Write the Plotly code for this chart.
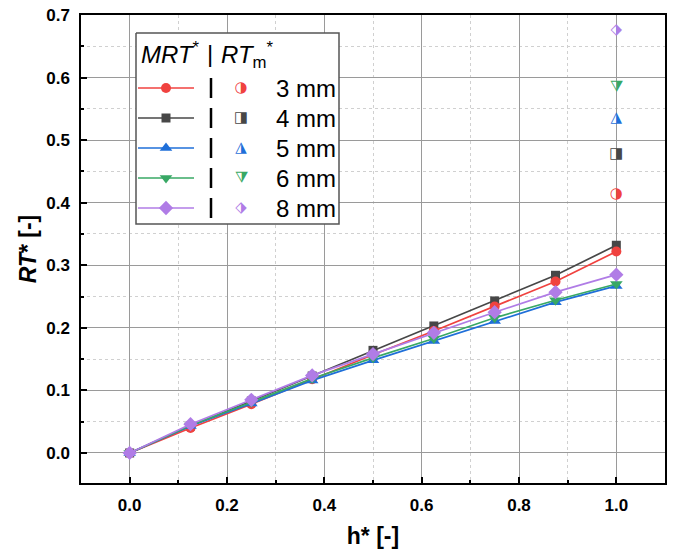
import plotly.graph_objects as go

h = [0, 0.125, 0.25, 0.375, 0.5, 0.625, 0.75, 0.875, 1.0]
labels = ["3 mm", "4 mm", "5 mm", "6 mm", "8 mm"]
mrt = {
    "3 mm": [0, 0.040, 0.078, 0.118, 0.157, 0.195, 0.234, 0.274, 0.322],
    "4 mm": [0, 0.043, 0.083, 0.123, 0.164, 0.203, 0.243, 0.284, 0.332],
    "5 mm": [0, 0.043, 0.079, 0.116, 0.148, 0.179, 0.211, 0.241, 0.267],
    "6 mm": [0, 0.044, 0.081, 0.119, 0.152, 0.183, 0.216, 0.244, 0.270],
    "8 mm": [0, 0.046, 0.085, 0.124, 0.158, 0.192, 0.225, 0.257, 0.285],
}
rtm_x = [1.0, 1.0, 1.0, 1.0, 1.0]
rtm = [0.413, 0.478, 0.535, 0.585, 0.675]

colors = {"3 mm": "#F0423F", "4 mm": "#474747", "5 mm": "#1F6FD9",
          "6 mm": "#38A865", "8 mm": "#B07CE6"}
symbols = {"3 mm": "circle", "4 mm": "square", "5 mm": "triangle-up",
           "6 mm": "triangle-down", "8 mm": "diamond"}
half_glyphs = {"3 mm": "\u25D1", "4 mm": "\u25E8", "5 mm": "\u25EE",
               "6 mm": "\u29E9", "8 mm": "\u2B17"}
msize = {"3 mm": 10, "4 mm": 9, "5 mm": 11, "6 mm": 11, "8 mm": 11}

FONT = "Liberation Sans, Arial, sans-serif"
GLYPH_FONT = dict(family="DejaVu Sans", size=15)
fig = go.Figure()

draw_order = ["4 mm", "3 mm", "5 mm", "6 mm", "8 mm"]
for k in draw_order:
    fig.add_trace(go.Scatter(
        x=h, y=mrt[k], mode="lines+markers", showlegend=False,
        line=dict(color=colors[k], width=1.7),
        marker=dict(symbol=symbols[k], size=msize[k], color=colors[k]),
    ))

for i, k in enumerate(labels):
    fig.add_trace(go.Scatter(
        x=[rtm_x[i]], y=[rtm[i]], mode="text", showlegend=False,
        text=[half_glyphs[k]], textposition="middle center",
        textfont=dict(color=colors[k], **GLYPH_FONT),
    ))

# ---- custom legend drawn on a pixel-unit overlay axis ----
L, R, T, B = 81, 665, 15, 483
bx0, bx1, by0, by1 = 136, 339, 33, 224
rows_y = [88, 118, 148, 178, 208]
fig.add_trace(go.Scatter(
    x=[bx0, bx1, bx1, bx0, bx0], y=[by0, by0, by1, by1, by0],
    xaxis="x2", yaxis="y2", mode="lines", fill="toself", fillcolor="white",
    line=dict(color="#555555", width=1.5), showlegend=False, hoverinfo="skip"))
for i, k in enumerate(labels):
    yy = rows_y[i]
    fig.add_trace(go.Scatter(
        x=[138, 194], y=[yy, yy], xaxis="x2", yaxis="y2", mode="lines",
        line=dict(color=colors[k], width=1.7), showlegend=False, hoverinfo="skip"))
    fig.add_trace(go.Scatter(
        x=[166], y=[yy], xaxis="x2", yaxis="y2", mode="markers",
        marker=dict(symbol=symbols[k], size=msize[k], color=colors[k]),
        showlegend=False, hoverinfo="skip"))
    fig.add_trace(go.Scatter(
        x=[241], y=[yy], xaxis="x2", yaxis="y2", mode="text",
        text=[half_glyphs[k]], textposition="middle center",
        textfont=dict(color=colors[k], **GLYPH_FONT),
        showlegend=False, hoverinfo="skip"))
    fig.add_trace(go.Scatter(
        x=[211, 211], y=[yy - 10, yy + 10], xaxis="x2", yaxis="y2", mode="lines",
        line=dict(color="black", width=2.5), showlegend=False, hoverinfo="skip"))
    fig.add_annotation(xref="x2", yref="y2", x=274, y=yy, text=k, showarrow=False,
                       xanchor="left", yanchor="middle",
                       font=dict(family=FONT, size=24, color="black"))

fig.add_annotation(xref="x2", yref="y2", x=139, y=53,
                   text="<i>MRT</i><sup>*</sup>", showarrow=False,
                   xanchor="left", yanchor="middle",
                   font=dict(family=FONT, size=24, color="black"))
fig.add_annotation(xref="x2", yref="y2", x=210, y=53, text="|", showarrow=False,
                   xanchor="center", yanchor="middle",
                   font=dict(family=FONT, size=24, color="black"))
fig.add_annotation(xref="x2", yref="y2", x=219, y=55,
                   text="<i>RT</i><sub>m</sub><sup>*</sup>", showarrow=False,
                   xanchor="left", yanchor="middle",
                   font=dict(family=FONT, size=24, color="black"))

axis_common = dict(
    showline=True, linecolor="black", linewidth=1.5, mirror=True,
    ticks="inside", ticklen=6, tickwidth=1.5, tickcolor="black",
    showgrid=True, gridcolor="#9a9a9a", gridwidth=1, zeroline=False,
    automargin=False,
    tickfont=dict(family=FONT, size=17, color="black", weight="bold"),
)
fig.update_layout(
    width=676, height=552,
    margin=dict(l=L, r=676 - R, t=T, b=552 - B),
    plot_bgcolor="white", paper_bgcolor="white",
    showlegend=False,
    xaxis=dict(range=[-0.1, 1.1], dtick=0.2, tick0=0, tickformat=".1f",
               ticklabelstandoff=6,
               minor=dict(dtick=0.1, ticks="inside", ticklen=3, tickcolor="black",
                          showgrid=True, gridcolor="#d0d0d0", griddash="dot", gridwidth=1),
               title=dict(text="<b>h* [-]</b>", standoff=14,
                          font=dict(family=FONT, size=23, color="black")),
               **axis_common),
    yaxis=dict(range=[-0.048, 0.7], dtick=0.1, tick0=0, tickformat=".1f",
               ticklabelstandoff=6,
               minor=dict(dtick=0.05, ticks="inside", ticklen=3, tickcolor="black",
                          showgrid=True, gridcolor="#d0d0d0", griddash="dot", gridwidth=1),
               title=dict(text="<b><i>RT</i>* [-]</b>", standoff=3,
                          font=dict(family=FONT, size=23, color="black")),
               **axis_common),
    xaxis2=dict(range=[L, R], overlaying="x", anchor="y2", visible=False, fixedrange=True),
    yaxis2=dict(range=[B, T], overlaying="y", anchor="x2", visible=False, fixedrange=True),
)

fig.write_html("out.html")
